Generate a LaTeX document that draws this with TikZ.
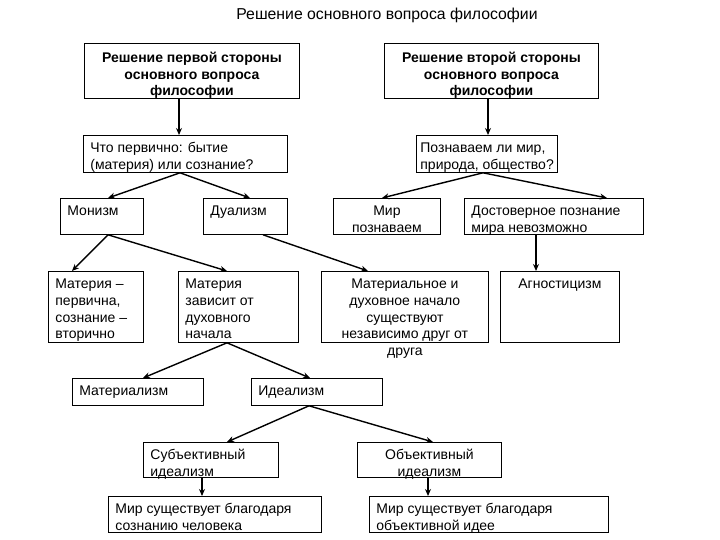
\documentclass[tikz,border=0pt]{standalone}
\usepackage{fontspec}
\setmainfont{Liberation Sans}
\usetikzlibrary{arrows.meta}
\tikzset{
  box/.style={draw, line width=0.8pt, inner sep=0pt, anchor=north west,
    font=\fontsize{14}{16.8}\selectfont},
  arr/.style={line width=1.4pt, -{Stealth[length=7pt,width=6pt]}}
}
\newcommand\txl[4][7pt]{\parbox[c][#3][t]{#2}{\raggedright\leftskip=#1\rule{0pt}{17pt}#4}}
\newcommand\txc[3]{\parbox[c][#2][t]{#1}{\centering\rule{0pt}{17pt}#3}}
\newcommand\txb[3]{\parbox[c][#2][t]{#1}{\centering\bfseries\rule{0pt}{19pt}#3}}
\begin{document}
\begin{tikzpicture}[x=1pt,y=-1pt]
\useasboundingbox (0,0) rectangle (720,540);
\node[font=\fontsize{15.8}{17}\selectfont] (title) at (387,15) {Решение основного вопроса философии};

\node[box] (A) at (84,43) {\txb{215pt}{55pt}{Решение первой стороны\\основного вопроса\\философии}};
\node[box] (B) at (384,43) {\txb{214pt}{55pt}{Решение второй стороны\\основного вопроса\\философии}};

\node[box] (C) at (83,135) {\txl{204pt}{37pt}{Что первично: бытие\\(материя) или сознание?}};
\node[box] (D) at (416,135) {\txl[4pt]{141pt}{37pt}{Познаваем ли мир,\\природа, общество?}};

\node[box] (Mon) at (60,198) {\txl{83pt}{36pt}{Монизм}};
\node[box] (Dual) at (203,198) {\txl{84pt}{36pt}{Дуализм}};
\node[box] (MirP) at (333,198) {\txc{107pt}{36pt}{Мир\\познаваем}};
\node[box] (Dost) at (464,198) {\txl{179pt}{36pt}{Достоверное познание\\мира невозможно}};

\node[box] (MatP) at (48,271) {\txl{95pt}{71pt}{Материя –\\первична,\\сознание –\\вторично}};
\node[box] (MatZ) at (178,271) {\txl{120pt}{71pt}{Материя\\зависит от\\духовного\\начала}};
\node[box] (MatD) at (321,271) {\txc{167pt}{71pt}{Материальное и\\духовное начало\\существуют\\независимо друг от\\друга}};
\node[box] (Agn) at (500,271) {\txc{119pt}{71pt}{Агностицизм}};

\node[box] (Mlsm) at (72,378) {\txl{131pt}{27pt}{Материализм}};
\node[box] (Idl) at (251,378) {\txl{131pt}{27pt}{Идеализм}};

\node[box] (Subj) at (143,442) {\txl{135pt}{35pt}{Субъективный\\идеализм}};
\node[box] (Obj) at (357,442) {\txc{144pt}{35pt}{Объективный\\идеализм}};

\node[box] (MirS) at (108,496) {\txl{213pt}{36pt}{Мир существует благодаря\\сознанию человека}};
\node[box] (MirO) at (369,496) {\txl{239pt}{36pt}{Мир существует благодаря\\объективной идее}};

\draw[arr] ([xshift=95pt]A.south west) -- ([xshift=96pt]C.north west);
\draw[arr] ([xshift=104pt]B.south west) -- ([xshift=72pt]D.north west);
\draw[arr] ([xshift=97pt]C.south west) -- ([xshift=48pt]Mon.north west);
\draw[arr] ([xshift=97pt]C.south west) -- ([xshift=47pt]Dual.north west);
\draw[arr] ([xshift=67pt]D.south west) -- ([xshift=49pt]MirP.north west);
\draw[arr] ([xshift=67pt]D.south west) -- ([xshift=143pt]Dost.north west);
\draw[arr] ([xshift=72pt]Dost.south west) -- ([xshift=36pt]Agn.north west);
\draw[arr] ([xshift=48pt]Mon.south west) -- ([xshift=24pt]MatP.north west);
\draw[arr] ([xshift=48pt]Mon.south west) -- ([xshift=49pt]MatZ.north west);
\draw[arr] ([xshift=60pt]Dual.south west) -- ([xshift=47pt]MatD.north west);
\draw[arr] ([xshift=49pt]MatZ.south west) -- ([xshift=71pt]Mlsm.north west);
\draw[arr] ([xshift=49pt]MatZ.south west) -- ([xshift=59pt]Idl.north west);
\draw[arr] ([xshift=58pt]Idl.south west) -- ([xshift=84pt]Subj.north west);
\draw[arr] ([xshift=58pt]Idl.south west) -- ([xshift=76pt]Obj.north west);
\draw[arr] ([xshift=59pt]Subj.south west) -- ([xshift=94pt]MirS.north west);
\draw[arr] ([xshift=71pt]Obj.south west) -- ([xshift=59pt]MirO.north west);
\end{tikzpicture}
\end{document}
